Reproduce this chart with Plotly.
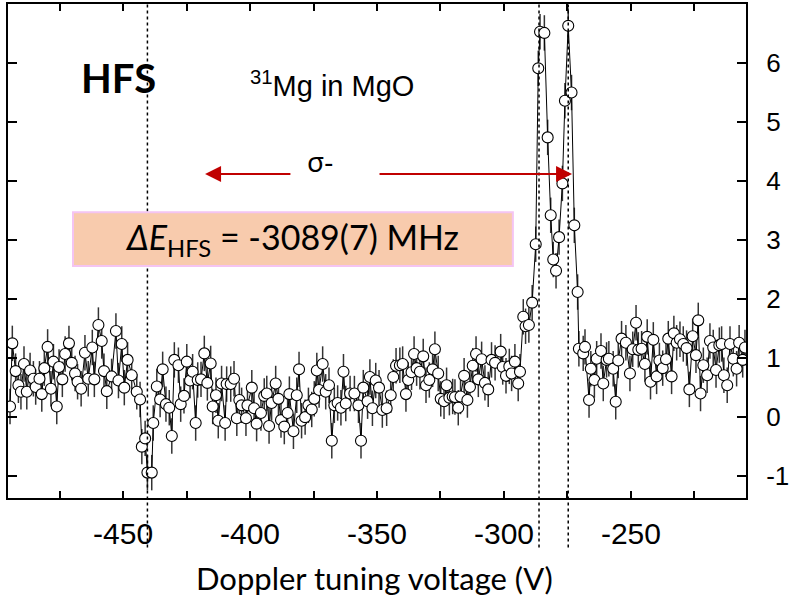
import plotly.graph_objects as go

# Doppler tuning voltage (V)
voltage = [
    -494.5, -493.6, -492.3, -491.2, -490.2, -489.0, -487.9, -486.6, -485.3, -484.4,
    -482.9, -482.0, -481.0, -479.7, -478.4, -477.4, -476.1, -475.2, -473.9, -472.8,
    -471.3, -470.2, -468.9, -467.9, -466.5, -465.0, -463.7, -462.1, -461.3, -459.7,
    -458.4, -457.5, -456.4, -454.5, -452.8, -451.8, -450.5, -449.5, -448.2, -446.6,
    -444.6, -443.3, -442.6, -441.3, -440.4, -438.7, -438.1, -436.7, -435.4, -434.4,
    -433.1, -431.8, -430.8, -429.8, -428.2, -427.3, -426.0, -424.9, -423.6, -422.6,
    -421.4, -420.6, -419.3, -418.0, -416.8, -415.5, -414.7, -413.4, -412.5, -411.2,
    -409.8, -409.2, -407.6, -406.3, -405.2, -404.2, -403.3, -401.6, -401.0, -399.3,
    -398.4, -397.4,
    -395.7, -394.4, -393.4, -392.5, -391.5, -389.9, -388.8, -387.8, -386.5, -385.2,
    -384.5, -382.9, -381.6, -380.7, -379.7, -378.3, -377.0, -375.7, -374.7, -373.7,
    -372.8, -371.4, -370.2, -368.9, -367.8, -366.8, -365.5, -364.2, -363.2, -362.3,
    -360.6, -358.9, -357.3, -356.3, -355.4, -353.7, -352.8, -351.8, -350.5, -349.2,
    -347.9,
    -346.2, -344.6, -343.6, -342.5, -341.0, -339.9, -338.6, -337.7, -336.4, -335.4,
    -334.4, -333.1, -331.8, -330.7, -329.4, -328.1, -327.2, -325.9, -324.9, -323.6,
    -322.6, -321.5, -320.2, -319.3, -318.0, -317.1, -315.7, -314.4, -313.4, -312.3,
    -311.0, -310.1, -308.8, -307.5, -306.2, -304.9, -303.5, -301.3, -300.5, -299.2,
    -297.9,
    -297.0, -295.7, -294.4, -293.7, -292.4, -291.5, -290.2, -288.9, -287.5, -286.5,
    -285.8, -284.1, -282.8, -281.6, -280.6, -279.5, -278.3, -277.0, -276.0, -274.7,
    -273.4, -272.3, -271.0, -270.5, -268.8, -268.1, -266.5, -265.8, -264.4, -263.5,
    -261.8, -260.9, -259.6, -258.7, -257.0, -256.0, -255.0, -253.7,
    -252.0, -250.4, -249.3, -248.0, -247.1, -245.8, -244.5, -243.6, -242.3, -241.2,
    -239.9, -238.8, -237.5, -236.2, -235.3, -234.0, -233.1, -232.0, -230.7, -229.4,
    -228.1, -227.0, -225.7, -224.4, -223.5, -222.6, -221.5, -220.0, -218.9, -217.6,
    -216.5, -215.2, -214.3, -213.4, -212.1, -211.0, -209.7, -208.4, -207.4, -206.0,
    -205.1,
]

# Signal (arb. units)
signal = [
    0.18, 1.25, 0.78, 0.54, 0.43, 0.90, 0.43, 0.79, 0.65, 0.51,
    0.65, 0.39, 0.83, 1.19, 0.48, 0.94, 0.18, 0.85, 0.64, 1.07,
    1.25, 0.92, 0.74, 0.60, 0.48, 1.09, 0.65, 1.18, 0.64, 1.56,
    1.29, 0.78, 0.44, 0.69, 1.46, 0.62, 1.24, 0.50, 0.97, 0.71,
    0.43, 0.30, -0.50, -0.36, -0.94, -0.94, -0.10, 0.52, 0.30, 0.81,
    0.22, 0.16, -0.32, 0.97, 0.88, 0.22, 0.36, 0.94, 0.62, 0.77,
    -0.10, 0.63, 0.64, 1.08, 0.58, 0.91, 0.18, 0.37, -0.06, 0.57,
    -0.10, 0.56, 0.56, 0.65, -0.02, 0.29, 0.20, -0.02, 0.20, 0.50,
    0.15, -0.11,
    0.07, 0.36, 0.40, -0.15, 0.24, 0.57, 0.31, -0.05, -0.16, 0.07,
    0.39, -0.24, 0.37, 0.81, -0.06, 0.00, 0.20, 0.13, 0.31, 0.79,
    0.46, 0.90, 0.43, 0.54, -0.40, 0.20, 0.24, 0.16, 0.77, 0.23,
    0.40, 0.40, 0.20, -0.40, 0.50, 0.27, 0.68, 0.15, 0.62, 0.50,
    0.12,
    0.15, 0.37, 0.68, 0.87, 0.88, 0.90, 0.39, 0.63, 0.76, 1.07,
    0.83, 0.77, 1.03, 0.54, 0.63, 0.81, 1.15, 0.74, 0.31, 0.27,
    0.54, 0.33, 0.35, 0.34, 0.16, 0.35, 0.70, 0.29, 0.51, 0.87,
    1.07, 0.64, 0.98, 0.58, 0.47, 0.97, 0.92, 1.11, 0.85, 0.70,
    0.86,
    0.74, 0.94, 0.57, 0.77, 1.70, 1.54, 1.56, 1.94, 2.93, 5.91,
    6.53, 6.51, 4.74, 3.42, 2.67, 2.48, 3.05, 3.96, 5.36, 6.63,
    5.50, 3.25, 2.12, 1.16, 1.08, 1.19, 0.29, 0.82, 0.63, 0.99,
    1.12, 0.57, 0.97, 0.99, 0.82, 0.26, 0.96, 1.33,
    1.26, 0.74, 1.15, 1.60, 1.14, 1.16, 0.90, 1.36, 0.60, 1.31,
    0.69, 0.96, 0.83, 0.98, 1.33, 0.69, 1.42, 1.26, 1.32, 1.24,
    1.17, 0.47, 1.37, 1.05, 1.64, 0.40, 0.88, 0.71, 1.29, 1.18,
    0.80, 1.22, 1.24, 0.71, 0.54, 1.24, 0.99, 0.82, 1.26, 0.97,
    1.18,
]

error_value = 0.3

x_tickvals = [-475, -450, -425, -400, -375, -350, -325, -300, -275, -250, -225]
x_ticktext = ["", "-450", "", "-400", "", "-350", "", "-300", "", "-250", ""]
y_tickvals = [-1, 0, 1, 2, 3, 4, 5, 6]
y_ticktext = ["-1", "0", "1", "2", "3", "4", "5", "6"]

marker_positions = [-440.4, -286.2, -274.7]

fig = go.Figure()
fig.add_trace(go.Scatter(
    x=voltage, y=signal, mode="lines+markers",
    line=dict(color="black", width=1),
    marker=dict(symbol="circle", size=11, color="white",
                line=dict(color="black", width=1.1)),
    error_y=dict(type="constant", value=error_value, color="#333333",
                 thickness=1.5, width=0),
    showlegend=False,
))

for xv in marker_positions:
    fig.add_shape(type="line", xref="x", yref="paper", x0=xv, x1=xv,
                  y0=-0.1, y1=1.0,
                  line=dict(color="black", width=1.5, dash="dot"), layer="above")

# Result box
fig.add_shape(type="rect", xref="x", yref="y", x0=-469.7, x1=-296.5, y0=2.56, y1=3.47,
              fillcolor="#F8CBAD", line=dict(color="#F4C4F2", width=2), layer="above")

red = "#C00000"
annotations = [
    dict(x=-467.3, y=5.75, xref="x", yref="y", text="<b>HFS</b>", showarrow=False,
         xanchor="left", yanchor="middle",
         font=dict(family="Lato, Noto Sans", size=40, color="black")),
    dict(x=-400.8, y=5.64, xref="x", yref="y", text="<sup>31</sup>Mg in MgO", showarrow=False,
         xanchor="left", yanchor="middle",
         font=dict(family="Liberation Sans, Arial", size=29, color="black")),
    dict(x=-372.4, y=4.34, xref="x", yref="y", text="σ-", showarrow=False,
         xanchor="center", yanchor="middle",
         font=dict(family="Noto Sans, Lato", size=28, color="black")),
    dict(x=-383.5, y=3.02, xref="x", yref="y",
         text="<i>ΔE</i><sub>HFS</sub> = -3089(7) MHz", showarrow=False,
         xanchor="center", yanchor="middle",
         font=dict(family="Lato, Noto Sans", size=34, color="black")),
    dict(x=-417.7, y=4.12, xref="x", yref="y", ax=-383.5, ay=4.12, axref="x", ayref="y",
         text="", showarrow=True, arrowhead=2, arrowsize=1.6, arrowwidth=2, arrowcolor=red),
    dict(x=-273.2, y=4.12, xref="x", yref="y", ax=-349.6, ay=4.12, axref="x", ayref="y",
         text="", showarrow=True, arrowhead=2, arrowsize=1.6, arrowwidth=2, arrowcolor=red),
    dict(x=0.497, y=-0.162, xref="paper", yref="paper", text="Doppler tuning voltage (V)",
         showarrow=False, xanchor="center", yanchor="middle",
         font=dict(family="Lato, Noto Sans", size=31, color="black")),
]

fig.update_layout(
    width=790, height=597,
    margin=dict(l=8, r=44, t=4, b=99, autoexpand=False),
    paper_bgcolor="white", plot_bgcolor="white",
    annotations=annotations,
    font=dict(family="Liberation Sans, Arial", color="black"),
    xaxis=dict(range=[-495.3, -204.7], tickvals=x_tickvals, ticktext=x_ticktext,
               ticks="inside", ticklen=7, tickwidth=1.5, tickcolor="black",
               showline=True, linecolor="black", linewidth=2, mirror="ticks",
               showgrid=False, zeroline=False, ticklabelstandoff=8, automargin=False,
               tickfont=dict(size=30, family="Liberation Sans, Arial", color="black")),
    yaxis=dict(range=[-1.37, 7.0], tickvals=y_tickvals, ticktext=y_ticktext, side="right",
               ticks="inside", ticklen=9, tickwidth=1.5, tickcolor="black",
               showline=True, linecolor="black", linewidth=2, mirror="ticks",
               showgrid=False, zeroline=False, ticklabelstandoff=13, automargin=False,
               tickfont=dict(size=26, family="Liberation Sans, Arial", color="black")),
)

fig.write_html(
    "out.html",
    config={"displayModeBar": False},
    post_script="document.body.style.margin='0';document.body.style.overflow='hidden';",
)
